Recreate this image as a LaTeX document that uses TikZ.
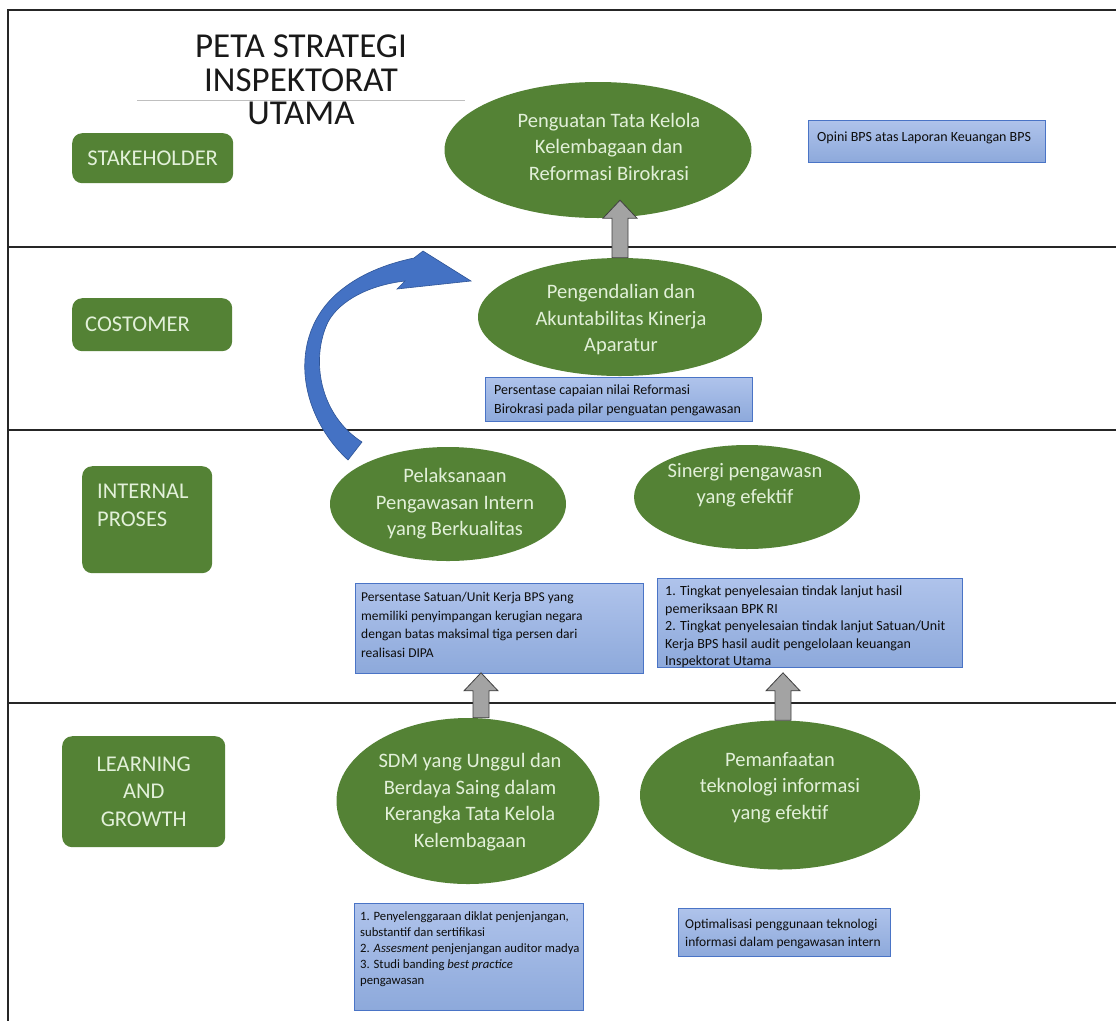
\documentclass[tikz,border=0pt]{standalone}
\usepackage{fontspec}
\setmainfont{Carlito}
\usetikzlibrary{calc,shapes.geometric}
\definecolor{grn}{HTML}{548235}
\definecolor{gtxt}{HTML}{E2F0D9}
\definecolor{bfa}{HTML}{AFC3EB}
\definecolor{bfb}{HTML}{8DA9DB}
\definecolor{bbord}{HTML}{4A74C6}
\definecolor{carrow}{HTML}{4472C4}
\definecolor{carrowb}{HTML}{2F5597}
\definecolor{garrow}{HTML}{A3A3A3}
\newcommand\blockup[2]{\path[garr] let \p1=#1, \p2=#2 in
  ({\x1-8pt},\y1) -- ({\x1-8pt},{\y2-18pt}) -- ({\x1-17pt},{\y2-18pt}) -- (\x1,\y2)
  -- ({\x1+17pt},{\y2-18pt}) -- ({\x1+8pt},{\y2-18pt}) -- ({\x1+8pt},\y1) -- cycle;}
\begin{document}
\begin{tikzpicture}[x=1pt,y=-1pt,
  band/.style={line width=1.8pt, draw=black!85},
  lbl/.style={rectangle, fill=grn, rounded corners=10pt, anchor=north west, inner sep=0},
  lbltxt/.style={text=gtxt, font=\fontsize{22.5}{27.5}\selectfont, align=left, inner sep=0},
  ell/.style={ellipse, fill=grn, inner sep=0},
  elltxt/.style={text=gtxt, font=\fontsize{20.5}{26.5}\selectfont, align=center, inner sep=0},
  bbox/.style={rectangle, draw=bbord, line width=0.8pt, top color=bfa, bottom color=bfb, anchor=north west, inner sep=0},
  btxt/.style={text=black!95, font=\fontsize{14}{17.5}\selectfont, align=left, anchor=north west, inner sep=0},
  garr/.style={fill=garrow, draw=black!75, line width=0.8pt},
  carr/.style={fill=carrow, draw=carrowb, line width=0.6pt},
  ttl/.style={font=\fontsize{35}{33.5}\selectfont, text=black!90, align=center, inner sep=0}
]
\useasboundingbox[fill=white] (0,0) rectangle (1116,1021);

% frame and bands
\draw[band] (1116,10) -- (8,10) -- (8,1021);
\draw[band] (8,247) -- (1116,247);
\draw[band] (8,430) -- (1116,430);
\draw[band] (8,703) -- (1116,703);

% title
\node[ttl] (title) at (301,80) {PETA STRATEGI\\INSPEKTORAT\\UTAMA};
\draw[black!25, line width=0.8pt] (137,100) -- (465,100);

% perspective labels
\node[lbl, minimum width=161, minimum height=50] (sh) at (72,133) {};
\node[lbltxt, align=center] (sht) at (sh.center) {STAKEHOLDER};
\node[lbl, minimum width=160, minimum height=53] (co) at (72,298) {};
\node[lbltxt, anchor=west] (cot) at ($(co.west)+(13,0)$) {COSTOMER};
\node[lbl, minimum width=130, minimum height=107] (ip) at (82,466) {};
\node[lbltxt, anchor=north west] (ipt) at ($(ip.north west)+(15,18)$) {INTERNAL\\PROSES};
\node[lbl, minimum width=163, minimum height=111] (lg) at (62,736) {};
\node[lbltxt, align=center] (lgt) at (lg.center) {LEARNING\\AND\\GROWTH};

% objectives
\node[ell, minimum width=307, minimum height=136] (e1) at (598,150) {};
\node[elltxt] (e1t) at ($(e1.center)+(11,-3.5)$) {Penguatan Tata Kelola\\Kelembagaan dan\\Reformasi Birokrasi};
\node[ell, minimum width=284, minimum height=118] (e2) at (620,317) {};
\node[elltxt] (e2t) at ($(e2.center)+(1,3)$) {Pengendalian dan\\Akuntabilitas Kinerja\\Aparatur};
\node[ell, minimum width=236, minimum height=114] (e3) at (448,504) {};
\node[elltxt] (e3t) at ($(e3.center)+(7,0)$) {Pelaksanaan\\Pengawasan Intern\\yang Berkualitas};
\node[ell, minimum width=226, minimum height=104] (e4) at (747,497) {};
\node[elltxt] (e4t) at ($(e4.center)+(-2,-12)$) {Sinergi pengawasn\\yang efektif};
\node[ell, minimum width=263, minimum height=166] (e5) at (468,801) {};
\node[elltxt] (e5t) at ($(e5.center)+(2,1)$) {SDM yang Unggul dan\\Berdaya Saing dalam\\Kerangka Tata Kelola\\Kelembagaan};
\node[ell, minimum width=280, minimum height=149] (e6) at (780,795) {};
\node[elltxt] (e6t) at ($(e6.center)+(0,-7.5)$) {Pemanfaatan\\teknologi informasi\\yang efektif};

% indicator boxes
\node[bbox, minimum width=237, minimum height=42] (b1) at (808,120) {};
\node[btxt] (b1t) at ($(b1.north west)+(9,12)$) {Opini BPS atas Laporan Keuangan BPS};
\node[bbox, minimum width=267, minimum height=44] (b2) at (485,377) {};
\node[btxt, font=\fontsize{14}{18.5}\selectfont] (b2t) at ($(b2.north west)+(9,8)$) {Persentase capaian nilai Reformasi\\Birokrasi pada pilar penguatan pengawasan};
\node[bbox, minimum width=288, minimum height=90] (b3) at (355,583) {};
\node[btxt, font=\fontsize{13.5}{18.5}\selectfont] (b3t) at ($(b3.north west)+(6,9)$) {Persentase Satuan/Unit Kerja BPS yang\\memiliki penyimpangan kerugian negara\\dengan batas maksimal tiga persen dari\\realisasi DIPA};
\node[bbox, minimum width=305, minimum height=89] (b4) at (657,578) {};
\node[btxt] (b4t) at ($(b4.north west)+(8,8)$) {1. Tingkat penyelesaian tindak lanjut hasil\\pemeriksaan BPK RI\\2. Tingkat penyelesaian tindak lanjut Satuan/Unit\\Kerja BPS hasil audit pengelolaan keuangan\\Inspektorat Utama};
\node[bbox, minimum width=229, minimum height=107] (b5) at (354,903) {};
\node[btxt, font=\fontsize{12.7}{16}\selectfont] (b5t) at ($(b5.north west)+(6,8)$) {1. Penyelenggaraan diklat penjenjangan,\\substantif dan sertifikasi\\2. \textit{Assesment} penjenjangan auditor madya\\3. Studi banding \textit{best practice}\\pengawasan};
\node[bbox, minimum width=212, minimum height=48] (b6) at (678,908) {};
\node[btxt, font=\fontsize{13.5}{18}\selectfont] (b6t) at ($(b6.north west)+(7,11)$) {Optimalisasi penggunaan teknologi\\informasi dalam pengawasan intern};

% gray block arrows
\blockup{(e2.north)}{($(e1.south)+(0,-18)$)}
\blockup{($(e5.north)+(13,0)$)}{($(b3.south)+(0,-1)$)}
\blockup{($(e6.north)+(3,0)$)}{($(b4.south)+(0,5)$)}

% curved blue arrow
\path[carr] (348,460) .. controls (296,412) and (286,330) .. (345,287)
  .. controls (365,272) and (390,263) .. (414,258) -- (423,251) -- (471,281)
  -- (397,289) -- (405,281) .. controls (370,285) and (340,300) .. (328,322)
  .. controls (310,360) and (320,415) .. (362,442) -- cycle;
\end{tikzpicture}
\end{document}
